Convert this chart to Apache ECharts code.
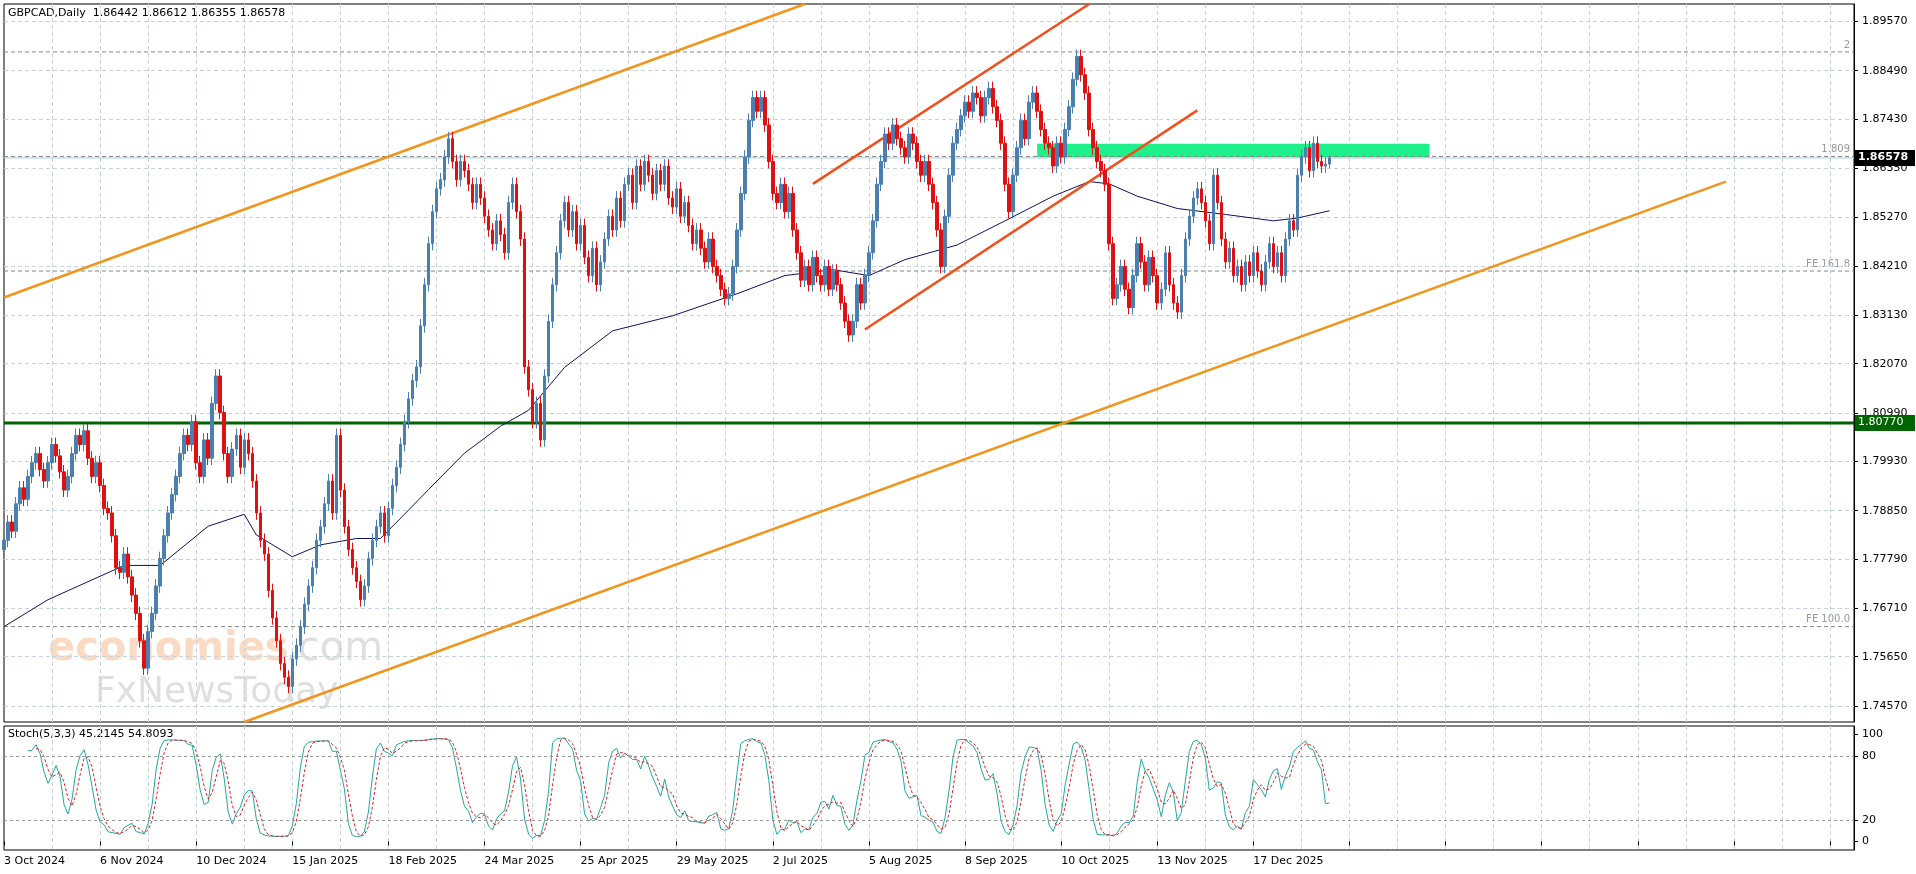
<!DOCTYPE html>
<html><head><meta charset="utf-8">
<script src="https://cdn.jsdelivr.net/npm/echarts@6/dist/echarts.min.js"></script>
<style>html,body{margin:0;padding:0;background:#fff}#c{width:1916px;height:874px}</style>
</head><body><div id="c"></div>
<script>
const closes = [
1.7820,1.7860,1.7840,1.7900,1.7935,1.7910,1.7960,1.7990,1.8010,1.7975,
1.7950,1.7990,1.8030,1.8005,1.7970,1.7930,1.7960,1.8010,1.8050,1.8030,
1.8060,1.8000,1.7960,1.7990,1.7940,1.7890,1.7880,1.7830,1.7760,1.7750,
1.7790,1.7740,1.7700,1.7660,1.7600,1.7540,1.7620,1.7660,1.7720,1.7780,
1.7830,1.7880,1.7920,1.7960,1.8010,1.8050,1.8030,1.8080,1.7990,1.7960,
1.8040,1.8000,1.8120,1.8180,1.8100,1.8010,1.7960,1.8020,1.8050,1.7980,
1.8040,1.8010,1.7950,1.7880,1.7820,1.7790,1.7710,1.7650,1.7600,1.7550,
1.7520,1.7500,1.7560,1.7590,1.7630,1.7680,1.7720,1.7760,1.7820,1.7850,
1.7900,1.7950,1.7880,1.8050,1.7930,1.7850,1.7800,1.7760,1.7730,1.7690,
1.7720,1.7780,1.7820,1.7850,1.7880,1.7830,1.7890,1.7940,1.7980,1.8030,
1.8080,1.8130,1.8170,1.8200,1.8290,1.8380,1.8470,1.8540,1.8590,1.8610,
1.8660,1.8700,1.8650,1.8610,1.8650,1.8630,1.8600,1.8560,1.8600,1.8570,
1.8530,1.8500,1.8470,1.8520,1.8490,1.8450,1.8560,1.8600,1.8540,1.8480,
1.8200,1.8150,1.8080,1.8120,1.8040,1.8180,1.8300,1.8380,1.8450,1.8520,
1.8560,1.8500,1.8540,1.8470,1.8510,1.8440,1.8400,1.8460,1.8380,1.8430,
1.8480,1.8530,1.8500,1.8570,1.8520,1.8600,1.8620,1.8560,1.8640,1.8600,
1.8650,1.8620,1.8580,1.8630,1.8600,1.8640,1.8570,1.8550,1.8590,1.8530,
1.8560,1.8510,1.8470,1.8500,1.8460,1.8430,1.8480,1.8420,1.8400,1.8370,
1.8350,1.8360,1.8420,1.8500,1.8580,1.8660,1.8740,1.8790,1.8760,1.8790,
1.8730,1.8650,1.8580,1.8560,1.8600,1.8540,1.8580,1.8500,1.8450,1.8390,
1.8420,1.8380,1.8440,1.8400,1.8380,1.8420,1.8370,1.8410,1.8380,1.8340,
1.8300,1.8270,1.8300,1.8380,1.8340,1.8400,1.8450,1.8520,1.8600,1.8650,
1.8710,1.8690,1.8730,1.8700,1.8680,1.8660,1.8710,1.8690,1.8650,1.8620,
1.8650,1.8600,1.8560,1.8500,1.8420,1.8530,1.8620,1.8690,1.8720,1.8750,
1.8780,1.8760,1.8800,1.8790,1.8750,1.8790,1.8810,1.8770,1.8740,1.8690,
1.8600,1.8540,1.8620,1.8680,1.8740,1.8700,1.8780,1.8800,1.8760,1.8720,
1.8690,1.8680,1.8640,1.8690,1.8660,1.8720,1.8770,1.8830,1.8880,1.8840,
1.8800,1.8720,1.8680,1.8650,1.8630,1.8600,1.8470,1.8350,1.8380,1.8420,
1.8370,1.8330,1.8400,1.8470,1.8430,1.8380,1.8440,1.8400,1.8340,1.8370,
1.8450,1.8380,1.8340,1.8320,1.8400,1.8480,1.8530,1.8570,1.8590,1.8560,
1.8520,1.8470,1.8620,1.8560,1.8480,1.8430,1.8460,1.8400,1.8420,1.8380,
1.8430,1.8400,1.8450,1.8410,1.8380,1.8430,1.8470,1.8420,1.8450,1.8400,
1.8480,1.8520,1.8500,1.8620,1.8660,1.8680,1.8630,1.8690,1.8650,1.8640,1.86442,1.86578];
const lastBar = {o:1.86442,h:1.86612,l:1.86355,c:1.86578};
const maPoints = [[0,1.7631],[11,1.7690],[30,1.7765],[39,1.7765],[51,1.7851],[60,1.7877],[63,1.7832],[72,1.7784],[79,1.7810],[88,1.7824],[94,1.7824],[100,1.7877],[106,1.7931],[115,1.8011],[124,1.8070],[131,1.8105],[140,1.8199],[152,1.8279],[167,1.8312],[183,1.8360],[195,1.8400],[207,1.8413],[216,1.8400],[225,1.8435],[238,1.8467],[250,1.8520],[262,1.8574],[271,1.8606],[276,1.8601],[283,1.8574],[293,1.8547],[305,1.8534],[317,1.8520],[323,1.8526],[331,1.8542]];
const yTickValues = [1.74570,1.75650,1.76710,1.77790,1.78850,1.79930,1.80990,1.82070,1.83130,1.84210,1.85270,1.86350,1.87430,1.88490,1.89570];
const orangeUpper = [[0,1.8352],[200,1.8995]];
const orangeLower = [[60,1.7422],[430,1.8606]];
const redUpper = [[202,1.8601],[271,1.8995]];
const redLower = [[215,1.8282],[298,1.8762]];
const greenLevel = 1.80770;
const zone = {from:258,to:356,low:1.8659,high:1.8689};
const dashedLevels = [{v:1.8890,t:'2'},{v:1.8661,t:'1.809'},{v:1.8410,t:'FE 161.8'},{v:1.7631,t:'FE 100.0'}];
const dateLabels = ['3 Oct 2024','6 Nov 2024','10 Dec 2024','15 Jan 2025','18 Feb 2025','24 Mar 2025','25 Apr 2025','29 May 2025','2 Jul 2025','5 Aug 2025','8 Sep 2025','10 Oct 2025','13 Nov 2025','17 Dec 2025'];

const N = 463;
const cats = [];
for (let i=0;i<N;i++) cats.push(i%24===0 && dateLabels[i/24] ? dateLabels[i/24] : '');
const W = 0.0015;
const ohlc = closes.map((c,i)=>{
  if (i===closes.length-1) return [lastBar.o,lastBar.c,lastBar.l,lastBar.h];
  const o = i===0 ? 1.7800 : closes[i-1];
  return [o,c,Math.min(o,c)-W,Math.max(o,c)+W];
});
const hi = ohlc.map(d=>d[3]), lo = ohlc.map(d=>d[2]);
const K=[],D=[];
for (let i=0;i<ohlc.length;i++){
  if(i<6){K.push(null);continue;}
  let num=0,den=0;
  for(let j=i-2;j<=i;j++){
    const hh=Math.max(...hi.slice(j-4,j+1)), ll=Math.min(...lo.slice(j-4,j+1));
    num+=closes[j]-ll; den+=hh-ll;
  }
  K.push(den?100*num/den:50);
}
for(let i=0;i<K.length;i++){
  if(K[i]==null||K[i-1]==null||K[i-2]==null){D.push(null);continue;}
  D.push((K[i]+K[i-1]+K[i-2])/3);
}
const ymin=1.7422,ymax=1.8995;
const F='DejaVu Sans';
const yPix=v=>4+718*(ymax-v)/(ymax-ymin);
const lineS=(data,color,w,type)=>({type:'line',data,xAxisIndex:0,yAxisIndex:0,symbol:'none',lineStyle:{color,width:w,type:type||'solid'},silent:true,z:3});
const hLine=(v,color,w,type)=>lineS([[0,v],[N-1,v]],color,w,type);
const chart = echarts.init(document.getElementById('c'));
chart.setOption({
  animation:false,
  grid:[{left:4,right:62,top:4,height:718,show:true,borderColor:'#000',borderWidth:1},
        {left:4,right:62,top:726,height:124,show:true,borderColor:'#000',borderWidth:1}],
  xAxis:[
   {type:'category',data:cats,gridIndex:0,boundaryGap:false,axisLine:{show:false},axisTick:{show:false},axisLabel:{show:false},
    splitLine:{show:true,interval:(i)=>i%12===0&&i>0,lineStyle:{color:'#c8d4dc',type:[4,3]}}},
   {type:'category',data:cats,gridIndex:1,boundaryGap:false,axisLine:{show:false},
    axisTick:{show:true,interval:(i)=>i%24===0,length:4,lineStyle:{color:'#000'}},
    axisLabel:{interval:(i)=>i%24===0,align:'left',fontFamily:F,fontSize:11,color:'#000',margin:6},
    splitLine:{show:true,interval:(i)=>i%12===0&&i>0,lineStyle:{color:'#c8d4dc',type:[4,3]}}}
  ],
  yAxis:[
   {type:'value',gridIndex:0,position:'right',min:ymin,max:ymax,scale:true,
    axisLine:{show:true,lineStyle:{color:'#000'}},
    axisTick:{show:true,customValues:yTickValues,length:4,lineStyle:{color:'#000'}},
    axisLabel:{customValues:yTickValues,formatter:v=>v.toFixed(5),fontFamily:F,fontSize:11,color:'#000',margin:8},
    splitLine:{show:true,customValues:yTickValues,lineStyle:{color:'#c8d4dc',type:[4,3]}}},
   {type:'value',gridIndex:1,position:'right',min:-8,max:108,
    axisLine:{show:true,lineStyle:{color:'#000'}},
    axisTick:{show:true,customValues:[0,20,80,100],length:4},
    axisLabel:{customValues:[0,20,80,100],fontFamily:F,fontSize:11,color:'#000',margin:8},
    splitLine:{show:false}}
  ],
  series:[
   {type:'candlestick',data:ohlc,xAxisIndex:0,yAxisIndex:0,barWidth:3,z:4,
    itemStyle:{color:'#4a7fb0',color0:'#e01010',borderColor:'#4a7fb0',borderColor0:'#e01010',borderWidth:1},
    markArea:{silent:true,itemStyle:{color:'#1ef08c'},data:[[{xAxis:zone.from,yAxis:zone.low},{xAxis:zone.to,yAxis:zone.high}]]}
   },
   ...dashedLevels.map(d=>hLine(d.v,'#888',1,[4,3])),
   hLine(lastBar.c,'#a8cfe0',1),
   hLine(greenLevel,'#006400',3),
   lineS(maPoints,'#101060',1),
   lineS(orangeUpper,'#f0961e',2.5),
   lineS(orangeLower,'#f0961e',2.5),
   lineS(redUpper,'#f0501e',2.5),
   lineS(redLower,'#f0501e',2.5),
   {type:'line',data:K,xAxisIndex:1,yAxisIndex:1,symbol:'none',lineStyle:{color:'#20a8a0',width:1},
    markLine:{symbol:'none',silent:true,label:{show:false},data:[{yAxis:80},{yAxis:20}],lineStyle:{color:'#999',type:[3,3],width:1}}},
   {type:'line',data:D,xAxisIndex:1,yAxisIndex:1,symbol:'none',lineStyle:{color:'#e02020',width:1,type:[3,2]}}
  ],
  graphic:[
   {type:'text',left:8,top:8,style:{text:'GBPCAD,Daily  1.86442 1.86612 1.86355 1.86578',font:'11px DejaVu Sans',fill:'#000'}},
   {type:'text',left:8,top:729,style:{text:'Stoch(5,3,3) 45.2145 54.8093',font:'11px DejaVu Sans',fill:'#000'}},
   ...dashedLevels.map(d=>({type:'text',x:1850,y:yPix(d.v)-2,style:{text:d.t,font:'10px DejaVu Sans',fill:'#999',align:'right',verticalAlign:'bottom'}})),
   {type:'rect',shape:{x:1855,y:yPix(lastBar.c)-8,width:60,height:16},style:{fill:'#000'},z:10},
   {type:'text',x:1858,y:yPix(lastBar.c)-6,style:{text:lastBar.c.toFixed(5),font:'bold 11px DejaVu Sans',fill:'#fff'},z:11},
   {type:'rect',shape:{x:1855,y:yPix(greenLevel)-8,width:60,height:16},style:{fill:'#006400'},z:10},
   {type:'text',x:1858,y:yPix(greenLevel)-6,style:{text:greenLevel.toFixed(5),font:'11px DejaVu Sans',fill:'#fff'},z:11},
   {type:'text',x:48,y:630,style:{text:'economies',font:'bold 40px DejaVu Sans',fill:'rgba(240,150,80,0.35)'}},
   {type:'text',x:285,y:630,style:{text:'.com',font:'40px DejaVu Sans',fill:'rgba(150,150,150,0.3)'}},
   {type:'text',x:95,y:675,style:{text:'FxNewsToday',font:'36px DejaVu Sans',fill:'rgba(150,150,150,0.3)'}}
  ]
});
</script></body></html>
